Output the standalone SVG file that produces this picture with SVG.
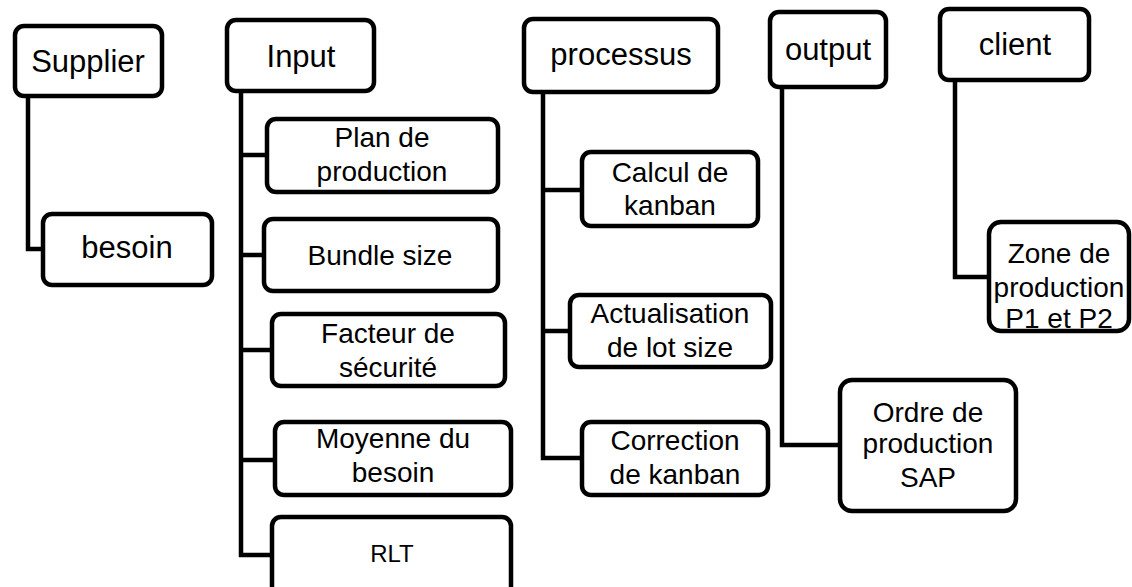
<svg xmlns="http://www.w3.org/2000/svg" width="1132" height="587" viewBox="0 0 1132 587">
<style>
.box{fill:#fff;stroke:#000;stroke-width:4.5}
.ln{fill:none;stroke:#000;stroke-width:4.5;stroke-linejoin:miter;stroke-linecap:square}
text{font-family:"Liberation Sans",Arial,sans-serif;fill:#000;text-anchor:middle}
.h{font-size:31px}
.c{font-size:28px}
</style>
<rect width="1132" height="587" fill="#fff"/>
<g id="connectors">
<path class="ln" d="M28,98 V249 H41"/>
<path class="ln" d="M241,93 V555 H270 M241,155 H265 M241,255 H262 M241,350 H270 M241,460 H273"/>
<path class="ln" d="M543,94 V458 H580 M543,190 H580 M543,331 H568"/>
<path class="ln" d="M782,89 V445 H838"/>
<path class="ln" d="M955,82 V277 H987"/>
</g>
<g id="supplier"><rect class="box" x="15" y="26" width="147" height="70" rx="9"/><text class="h" x="88" y="72">Supplier</text></g>
<g id="besoin"><rect class="box" x="43" y="214" width="169" height="71" rx="9"/><text class="h" x="127" y="258">besoin</text></g>
<g id="input"><rect class="box" x="227" y="20" width="147" height="71" rx="9"/><text class="h" x="301" y="67">Input</text></g>
<g id="plan"><rect class="box" x="267" y="119" width="231" height="73" rx="9"/><text class="c" x="382" y="147">Plan de</text><text class="c" x="382" y="181">production</text></g>
<g id="bundle"><rect class="box" x="264" y="219" width="234" height="72" rx="9"/><text class="c" x="380" y="265">Bundle size</text></g>
<g id="facteur"><rect class="box" x="272" y="314" width="233" height="72" rx="9"/><text class="c" x="388" y="343">Facteur de</text><text class="c" x="388" y="377">sécurité</text></g>
<g id="moyenne"><rect class="box" x="275" y="422" width="236" height="73" rx="9"/><text class="c" x="393" y="448">Moyenne du</text><text class="c" x="393" y="482">besoin</text></g>
<g id="rlt"><rect class="box" x="272" y="517" width="239" height="90" rx="9"/><text x="392" y="562" font-size="24">RLT</text></g>
<g id="processus"><rect class="box" x="524" y="19" width="194" height="73" rx="9"/><text class="h" x="621" y="65">processus</text></g>
<g id="calcul"><rect class="box" x="582" y="152" width="176" height="74" rx="9"/><text class="c" x="670" y="182">Calcul de</text><text class="c" x="670" y="215">kanban</text></g>
<g id="actualisation"><rect class="box" x="570" y="295" width="201" height="72" rx="9"/><text class="c" x="670" y="323">Actualisation</text><text class="c" x="670" y="357">de lot size</text></g>
<g id="correction"><rect class="box" x="582" y="422" width="186" height="73" rx="9"/><text class="c" x="675" y="450">Correction</text><text class="c" x="675" y="484">de kanban</text></g>
<g id="output"><rect class="box" x="770" y="12" width="116" height="75" rx="9"/><text class="h" x="828" y="60">output</text></g>
<g id="ordre"><rect class="box" x="840" y="380" width="176" height="131" rx="12"/><text class="c" x="928" y="422">Ordre de</text><text class="c" x="928" y="453">production</text><text class="c" x="928" y="487">SAP</text></g>
<g id="client"><rect class="box" x="940" y="9" width="149" height="71" rx="9"/><text class="h" x="1015" y="55">client</text></g>
<g id="zone"><rect class="box" x="989" y="222" width="140" height="109" rx="12"/><text class="c" x="1059" y="263">Zone de</text><text class="c" x="1059" y="297">production</text><text class="c" x="1059" y="328">P1 et P2</text></g>
</svg>
